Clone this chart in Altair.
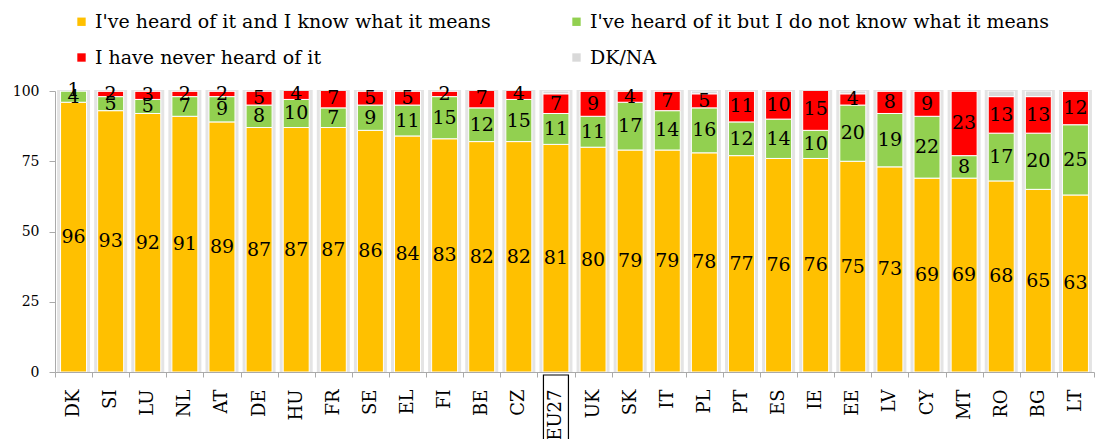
import altair as alt
import pandas as pd

countries = ["DK", "SI", "LU", "NL", "AT", "DE", "HU", "FR", "SE", "EL", "FI", "BE", "CZ", "EU27",
             "UK", "SK", "IT", "PL", "PT", "ES", "IE", "EE", "LV", "CY", "MT", "RO", "BG", "LT"]
know = [96, 93, 92, 91, 89, 87, 87, 87, 86, 84, 83, 82, 82, 81, 80, 79, 79, 78, 77, 76, 76, 75, 73, 69, 69, 68, 65, 63]
notknow = [4, 5, 5, 7, 9, 8, 10, 7, 9, 11, 15, 12, 15, 11, 11, 17, 14, 16, 12, 14, 10, 20, 19, 22, 8, 17, 20, 25]
never = [1, 2, 3, 2, 2, 5, 4, 7, 5, 5, 2, 7, 4, 7, 9, 4, 7, 5, 11, 10, 15, 4, 8, 9, 23, 13, 13, 12]
dkna = [0, 0, 0, 0, 0, 0, 0, 0, 0, 0, 0, 0, 0, 1, 0, 0, 0, 1, 0, 0, 0, 1, 0, 0, 0, 2, 2, 0]

series = ["I've heard of it and I know what it means",
          "I've heard of it but I do not know what it means",
          "I have never heard of it",
          "DK/NA"]
colors = ["#FFC000", "#92D050", "#FF0000", "#D9D9D9"]
# legend is filled column by column: column 1 = know, never; column 2 = not know, DK/NA
legend_order = [0, 2, 1, 3]

rows = []
for i, c in enumerate(countries):
    for k, (s, vals) in enumerate(zip(series, [know, notknow, never, dkna])):
        rows.append({"country": c, "series": s, "order": k, "value": vals[i]})
df = pd.DataFrame(rows)

W, H = 1039, 281
FONT = "DejaVu Serif"

xscale = alt.Scale(paddingInner=0, paddingOuter=0)
xenc = alt.X("country:N", sort=countries, scale=xscale, title=None,
             axis=alt.Axis(labelAngle=270, labelFont=FONT, labelFontSize=18, labelColor="black",
                           labelPadding=12, tickSize=5, tickBand="extent", tickColor="#aaaaaa",
                           domainColor="#aaaaaa", labelBaseline="middle"))
yscale = alt.Scale(domain=[0, 100], nice=False)
yaxis = alt.Axis(values=[0, 25, 50, 75, 100], labelFont=FONT, labelFontSize=14, labelColor="black",
                 grid=False, tickSize=6, labelPadding=10, tickColor="#aaaaaa", domainColor="#aaaaaa")

base = alt.Chart(df).transform_stack(
    stack="value", groupby=["country"], as_=["y0", "y1"],
    sort=[alt.SortField("order", order="ascending")]
).transform_calculate(mid="(datum.y0 + datum.y1) / 2")

glow = alt.Chart(pd.DataFrame({"country": countries})).mark_bar(size=33, color="#e4e4e4").encode(
    x=xenc, y=alt.value(-1), y2=alt.value(H))

bars = base.mark_bar(size=26, stroke="white", strokeWidth=1, clip=True).encode(
    x=xenc,
    y=alt.Y("y0:Q", scale=yscale, axis=yaxis, title=None),
    y2="y1:Q",
    color=alt.Color("series:N",
                    scale=alt.Scale(domain=[series[i] for i in legend_order],
                                    range=[colors[i] for i in legend_order]),
                    legend=alt.Legend(orient="none", legendX=17, legendY=-79, columns=2,
                                      columnPadding=76, rowPadding=16, symbolType="square",
                                      symbolSize=70, symbolStrokeWidth=0, labelFont=FONT,
                                      labelFontSize=19, labelLimit=700, title=None)),
)

labels = base.transform_filter("datum.order < 3").mark_text(
    font=FONT, fontSize=19, color="black", baseline="middle").encode(
    x=xenc, y=alt.Y("mid:Q", scale=yscale), text="value:Q")

box = alt.Chart(pd.DataFrame({"country": ["EU27"]})).mark_bar(
    filled=False, stroke="black", strokeWidth=1.2, size=25).encode(
    x=xenc, y=alt.value(H + 3), y2=alt.value(H + 90))

chart = alt.layer(glow, bars, labels, box).properties(
    width=W, height=H,
    autosize=alt.AutoSizeParams(type="none"),
    padding={"left": 47, "top": 83, "right": 2, "bottom": 67},
).configure_view(stroke=None)

chart.save("out.html", embed_options={"renderer": "svg", "actions": False})
